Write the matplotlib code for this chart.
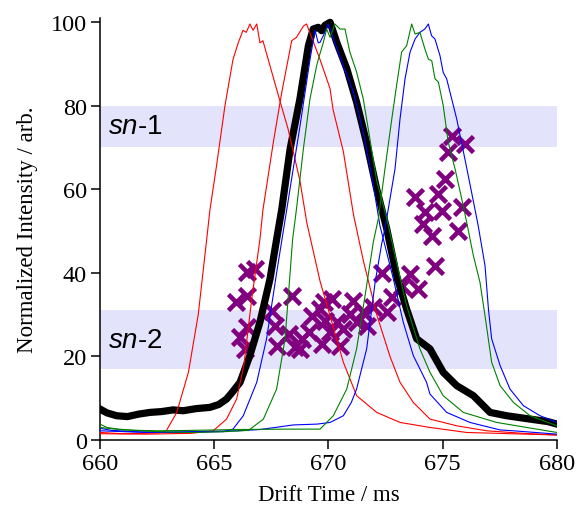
import matplotlib
matplotlib.use("Agg")
import matplotlib.pyplot as plt

plt.rcParams['font.family'] = ['Liberation Serif', 'DejaVu Serif']
plt.rcParams['mathtext.fontset'] = 'custom'
plt.rcParams['mathtext.it'] = 'Liberation Sans:italic'
plt.rcParams['mathtext.rm'] = 'Liberation Sans'

# drift time (ms) / normalized intensity
red1_x = [660.0, 661.0, 662.0, 662.6, 662.9, 663.36, 663.87, 664.3, 664.67, 664.81, 665.1, 665.47,
          665.82, 666.05, 666.26, 666.4, 666.56, 666.7, 666.86, 667.0, 667.13, 667.44, 667.88,
          668.23, 668.75, 669.05, 669.63, 670.21, 670.65, 671.23, 672.11, 673.13, 674.44, 676.05,
          678.0, 680.0]
red1_y = [1.8, 1.5, 1.6, 1.7, 2.2, 6.6, 16.2, 30.0, 48.0, 55.0, 65.6, 80.0,
          91.0, 95.0, 98.0, 97.5, 99.5, 98.0, 99.5, 95.0, 95.5, 89.5, 81.0,
          74.4, 62.0, 52.0, 38.0, 27.0, 18.6, 10.6, 6.6, 4.2, 3.0, 1.8,
          1.5, 1.2]

red2_x = [660.0, 662.0, 664.0, 664.95, 665.54, 665.98, 666.3, 666.64, 667.0, 667.13, 667.58, 667.95,
          668.39, 668.6, 668.9, 669.04, 669.32, 669.63, 670.07, 670.2, 670.65, 671.09, 671.52,
          672.11, 672.69, 673.13, 673.71, 674.44, 675.61, 676.92, 678.5, 680.0]
red2_y = [1.5, 1.4, 1.6, 2.2, 5.0, 9.8, 18.0, 33.7, 48.0, 55.0, 71.0, 83.0,
          95.5, 96.3, 99.0, 99.5, 95.5, 91.0, 84.0, 79.0, 69.0, 54.0, 43.0,
          30.0, 20.0, 13.8, 9.0, 5.0, 3.4, 2.2, 1.6, 1.2]

black_x = [660.0, 660.3, 660.73, 661.2, 661.7, 662.19, 662.7, 663.2, 663.64, 664.2, 664.81, 665.2,
           665.54, 665.8, 666.13, 666.56, 667.0, 667.44, 667.73, 667.95, 668.32, 668.75, 669.12,
           669.33, 669.55, 669.7, 669.85, 670.07, 670.36, 670.8, 671.23, 671.67, 672.11, 672.55,
           672.98, 673.42, 673.86, 674.44, 675.02, 675.61, 676.34, 677.07, 677.8, 678.82, 679.6,
           680.0]
black_y = [7.4, 6.5, 5.8, 5.6, 6.2, 6.6, 6.8, 7.2, 7.0, 7.5, 7.8, 8.5,
           9.8, 11.5, 13.8, 20.2, 28.2, 38.5, 48.0, 55.0, 69.6, 81.6, 94.3,
           98.3, 98.7, 97.9, 99.2, 99.9, 95.1, 88.8, 80.8, 71.0, 60.0, 50.5,
           39.3, 31.3, 24.2, 21.8, 16.2, 13.0, 10.6, 6.6, 5.8, 5.0, 4.4,
           3.8]

blue1_x = [660.0, 660.5, 661.5, 663.0, 664.5, 665.4, 665.82, 666.27, 666.86, 667.29, 667.73, 668.17,
           668.75, 669.19, 669.41, 669.55, 669.63, 669.8, 669.99, 670.43, 670.65, 671.09, 671.52,
           671.96, 672.25, 672.84, 673.27, 673.71, 674.29, 674.44, 675.17, 676.19, 677.51, 678.09,
           680.0]
blue1_y = [2.8, 2.3, 2.0, 1.8, 1.9, 2.0, 2.6, 5.8, 13.8, 24.2, 40.0, 55.0,
           75.0, 91.0, 98.0, 95.0, 95.1, 97.0, 99.5, 92.7, 89.5, 83.2, 73.6,
           61.0, 51.3, 38.5, 28.2, 20.2, 13.8, 11.0, 6.6, 4.2, 2.4, 2.2,
           1.4]

blue2_x = [660.0, 662.0, 664.0, 666.0, 667.0, 668.46, 669.5, 670.07, 670.65, 671.0, 671.23, 671.67,
           672.04, 672.33, 672.47, 672.91, 673.13, 673.35, 673.57, 673.79, 674.0, 674.22, 674.37,
           674.51, 674.66, 674.88, 675.02, 675.17, 675.39, 675.61, 675.97, 676.26, 676.55, 676.85,
           677.0, 677.14, 677.51, 677.94, 678.53, 679.26, 680.0]
blue2_y = [2.2, 1.8, 2.0, 2.2, 2.5, 3.6, 3.8, 4.2, 5.8, 9.0, 12.2, 21.8,
           37.7, 47.0, 50.5, 64.8, 76.8, 86.4, 92.8, 95.9, 97.5, 98.3, 99.5,
           96.7, 95.9, 91.9, 87.9, 86.4, 81.6, 76.8, 67.2, 59.3, 51.3, 41.7,
           31.3, 24.2, 17.8, 12.2, 8.2, 5.8, 4.2]

green1_x = [660.0, 660.3, 660.8, 661.5, 662.5, 664.0, 665.5, 666.5, 667.15, 667.73, 668.1, 668.32,
            668.43, 668.6, 668.9, 669.19, 669.48, 669.6, 669.77, 669.92, 670.07, 670.28, 670.5,
            670.72, 670.94, 671.23, 671.52, 671.74, 672.11, 672.55, 672.98, 673.42, 674.0, 674.44,
            675.02, 675.9, 677.36, 678.67, 680.0]
green1_y = [3.8, 3.0, 2.6, 2.3, 2.0, 1.8, 2.0, 2.3, 5.0, 12.2, 24.2, 40.0,
            48.0, 55.3, 69.6, 81.6, 89.5, 91.9, 95.0, 98.3, 96.3, 99.5, 98.3,
            98.3, 92.7, 88.0, 81.6, 74.4, 62.0, 53.0, 42.5, 32.1, 21.8, 16.2,
            10.6, 6.6, 4.2, 3.0, 1.8]

green2_x = [660.0, 661.0, 662.5, 664.0, 666.0, 668.0, 668.75, 669.63, 670.21, 670.8, 671.23, 671.6,
            671.96, 672.18, 672.47, 672.77, 672.98, 673.2, 673.42, 673.64, 673.79, 674.0, 674.22,
            674.37, 674.52, 674.66, 674.81, 675.02, 675.24, 675.54, 675.83, 676.05, 676.34, 676.63,
            676.85, 677.14, 677.51, 678.09, 678.82, 680.0]
green2_y = [3.0, 2.4, 2.2, 2.3, 2.5, 2.6, 2.6, 2.6, 5.8, 12.2, 21.8, 34.5,
            47.3, 52.9, 64.8, 76.8, 84.8, 92.8, 94.3, 99.5, 97.1, 97.5, 93.5,
            91.1, 90.7, 86.4, 85.6, 80.0, 71.2, 64.8, 57.7, 52.0, 44.1, 37.7,
            29.7, 18.6, 13.0, 9.0, 5.8, 3.4]

# purple crosses
cross_x = [666.78, 666.43, 665.95, 666.43, 668.40, 667.53, 666.13, 666.43, 666.35, 667.66,
           667.75, 668.27, 668.53, 668.84, 669.15, 669.28, 669.63, 669.85, 669.80, 669.72,
           670.15, 671.07, 672.35, 672.78, 672.56, 671.95, 671.51, 670.94, 670.37, 670.07,
           670.63, 671.25, 671.68, 670.50, 673.57, 673.92, 673.22, 674.66, 675.39, 675.97,
           675.23, 675.10, 674.79, 673.79, 674.97, 674.22, 675.83, 674.14, 674.53, 675.67,
           668.75]
cross_y = [40.9, 40.2, 33.0, 34.4, 34.4, 30.9, 24.6, 27.0, 21.8, 27.3,
           22.5, 25.4, 22.2, 24.2, 25.8, 29.7, 31.3, 28.5, 33.0, 23.0,
           33.7, 33.3, 40.0, 34.2, 30.6, 31.8, 30.6, 30.1, 28.2, 25.8,
           26.6, 28.2, 27.3, 22.5, 39.7, 36.1, 36.8, 41.6, 72.8, 70.8,
           68.9, 62.4, 58.9, 58.1, 54.8, 54.5, 55.7, 51.7, 48.8, 50.0,
           21.8]

bands = [(70, 80, r'$sn$-1'), (17, 31, r'$sn$-2')]

fig = plt.figure(figsize=(5.79, 5.10), dpi=100)
ax = fig.add_axes([0.1727, 0.1353, 0.7893, 0.828])

for lo, hi, lab in bands:
    ax.axhspan(lo, hi, color='#e3e3fb', lw=0, zorder=0)
    ax.text(660.35, (lo + hi) / 2, lab, family=['Liberation Sans', 'DejaVu Sans'],
            fontsize=20, va='center', ha='left', zorder=1)

ax.plot(cross_x, cross_y, 'x', color='#800080', ms=11.5, mew=3.3, zorder=2)

ax.plot(black_x, black_y, color='black', lw=5.2, solid_joinstyle='round', zorder=3)
ax.plot(red1_x, red1_y, color='#ff0000', lw=0.8, zorder=4)
ax.plot(red2_x, red2_y, color='#ff0000', lw=0.8, zorder=4)
ax.plot(blue1_x, blue1_y, color='#0000ff', lw=0.8, zorder=4)
ax.plot(blue2_x, blue2_y, color='#0000ff', lw=0.8, zorder=4)
ax.plot(green1_x, green1_y, color='#008000', lw=0.8, zorder=4)
ax.plot(green2_x, green2_y, color='#008000', lw=0.8, zorder=4)

ax.set_xlim(660, 680)
ax.set_ylim(0, 101)
ax.set_xticks([660, 665, 670, 675, 680])
ax.set_yticks([0, 20, 40, 60, 80, 100])
for s in ['top', 'right']:
    ax.spines[s].set_visible(False)
for s in ['left', 'bottom']:
    ax.spines[s].set_linewidth(1.1)
ax.tick_params(direction='out', length=6.5, width=1.1, labelsize=17.5, pad=3)
ax.set_xlabel('Drift Time / ms', fontsize=16.5, labelpad=7)
ax.set_ylabel('Normalized Intensity / arb.', fontsize=16.5, labelpad=9)

fig.savefig('out.png', dpi=100)
